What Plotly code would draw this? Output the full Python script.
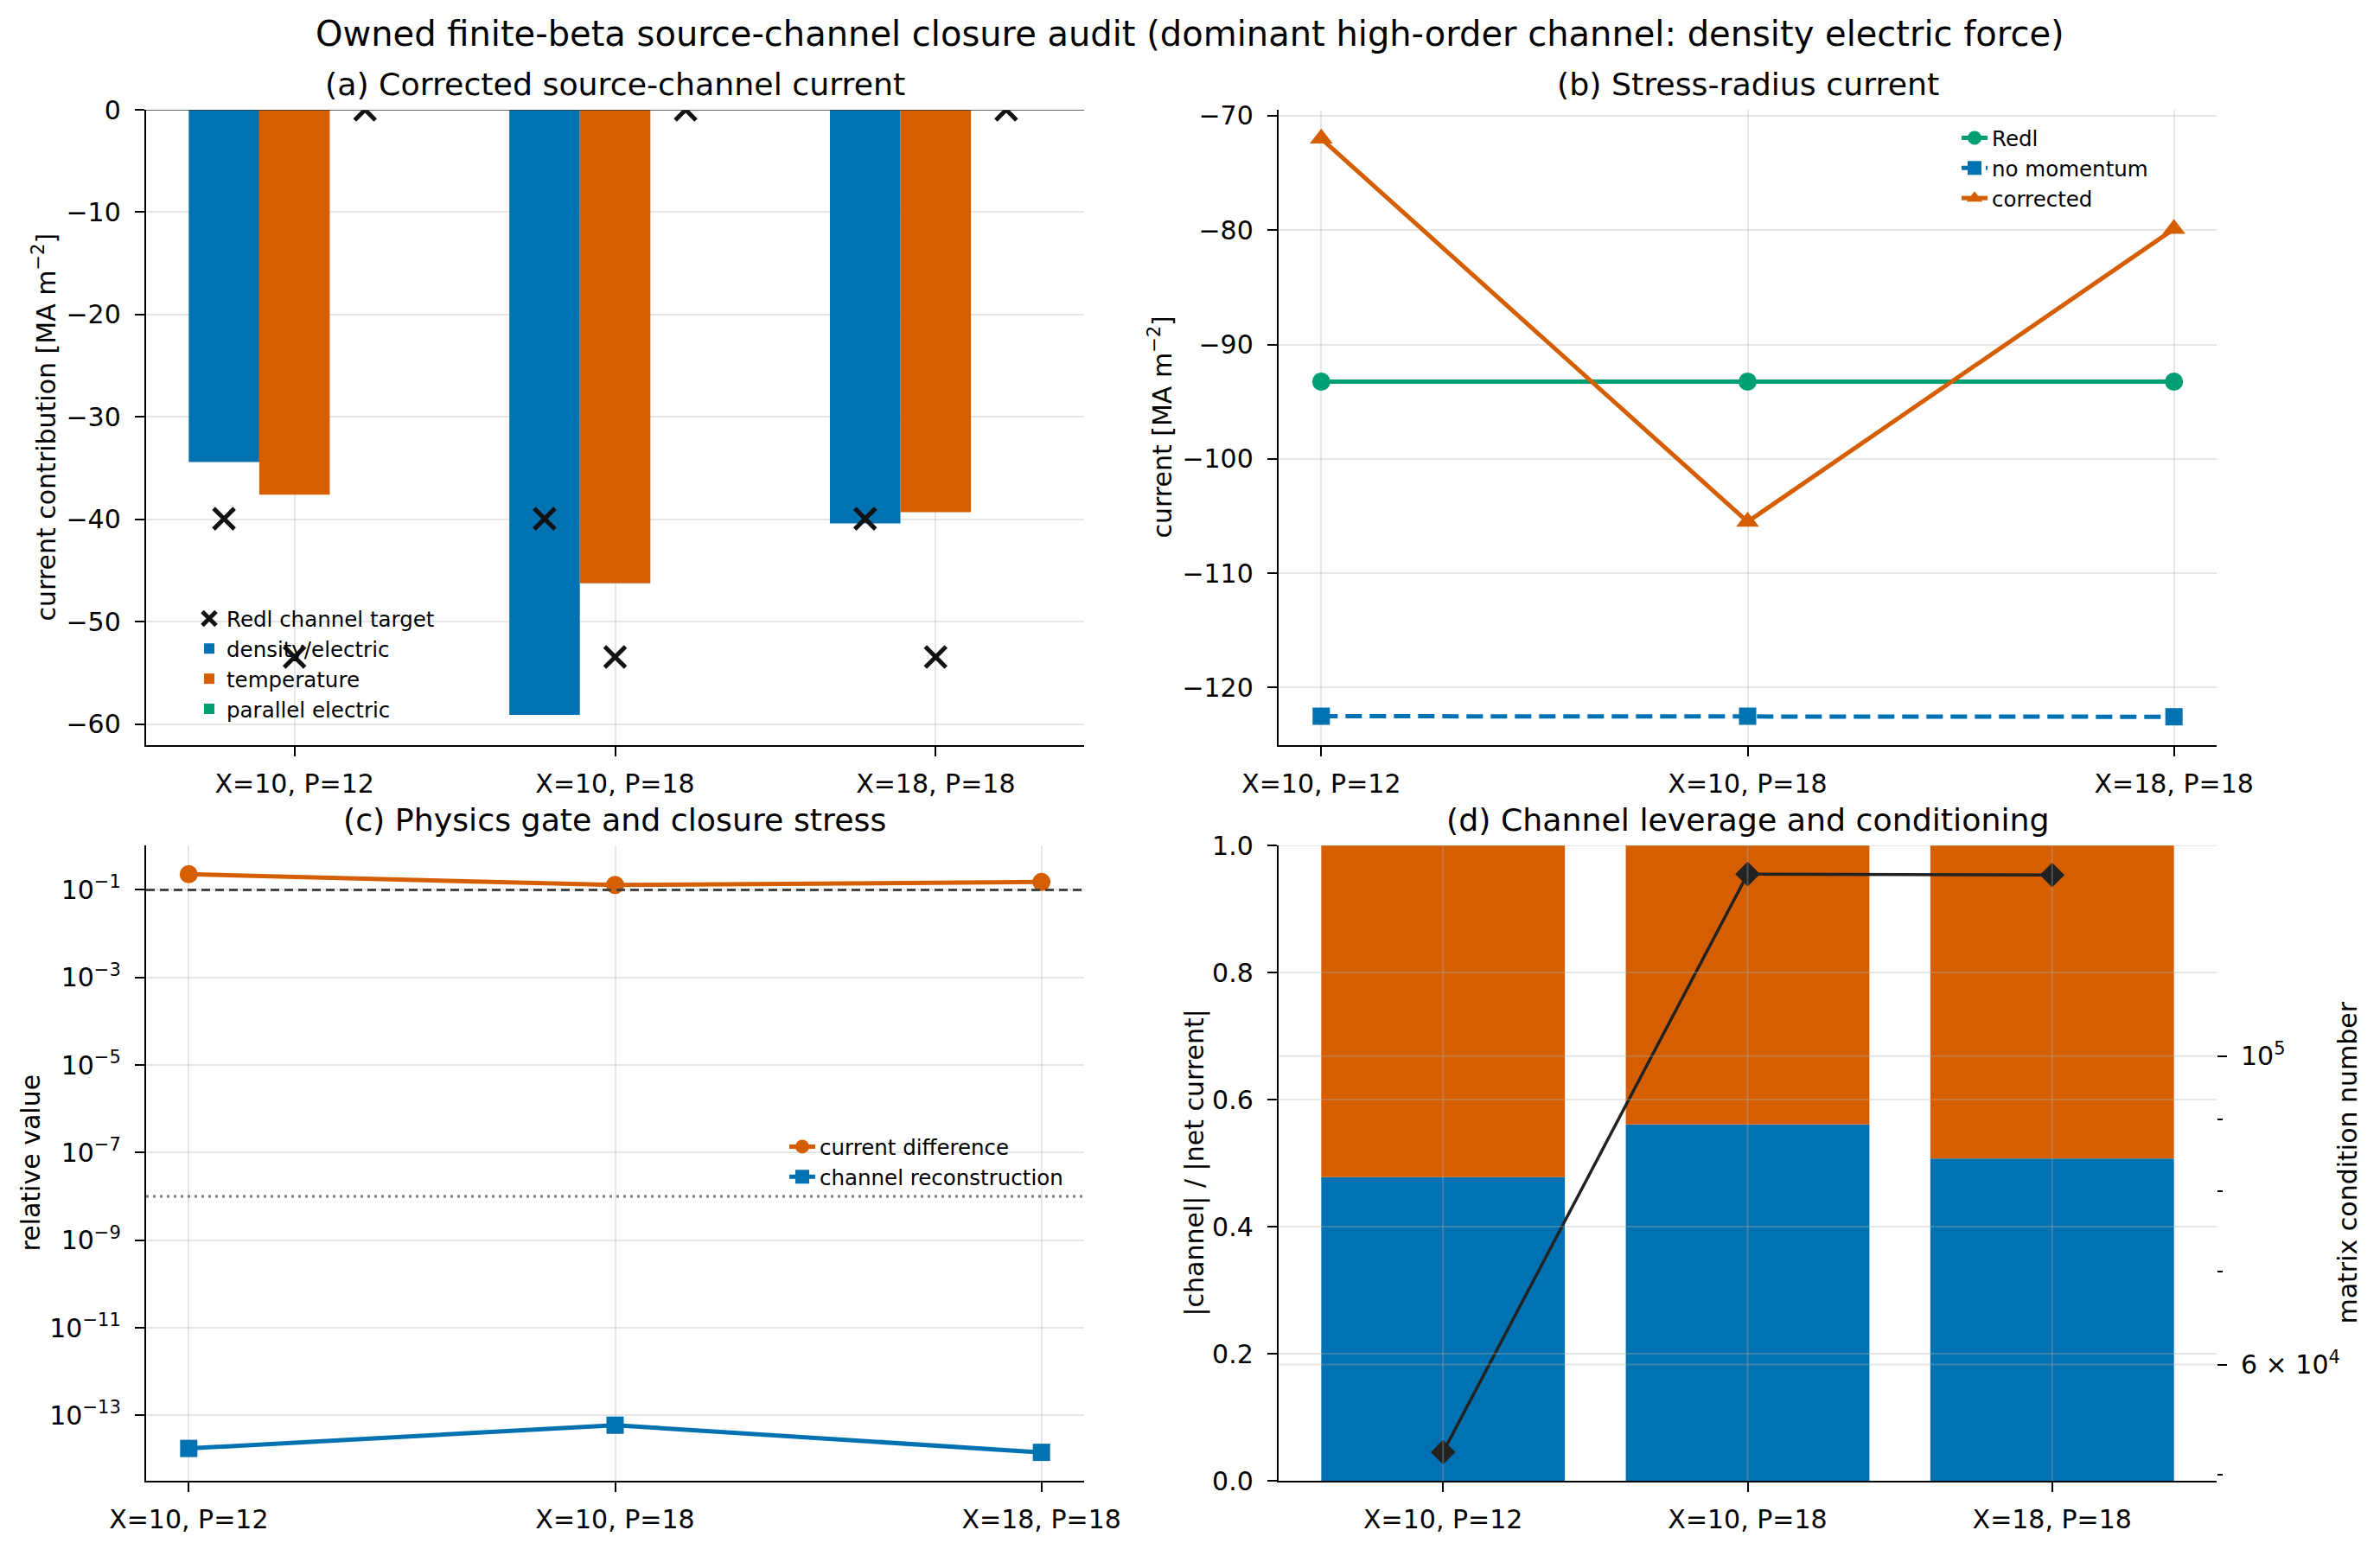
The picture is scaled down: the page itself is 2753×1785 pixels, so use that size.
import plotly.graph_objects as go

# ---------------- data ----------------
categories = ["X=10, P=12", "X=10, P=18", "X=18, P=18"]

# (a) corrected source-channel current [MA m^-2]
density_current = [-34.4, -59.1, -40.4]
temperature_current = [-37.6, -46.25, -39.3]
parallel_current = [0.0, 0.0, 0.0]
density_target = [-39.95, -39.95, -39.95]
temperature_target = [-53.45, -53.45, -53.45]
parallel_target = [0.0, 0.0, 0.0]

# (b) stress-radius current [MA m^-2]
redl_current = [-93.25, -93.25, -93.25]
no_momentum_current = [-122.5, -122.5, -122.55]
corrected_current = [-72.0, -105.5, -79.9]

# (c) physics gate and closure stress
current_difference = [0.227, 0.129, 0.151]
channel_reconstruction = [1.77e-14, 6.0e-14, 1.44e-14]
gate_threshold = 0.1
reconstruction_tolerance = 1e-8
log_tick_values = [1e-13, 1e-11, 1e-9, 1e-7, 1e-5, 1e-3, 1e-1]
log_tick_labels = ["10<sup>\u221213</sup>", "10<sup>\u221211</sup>", "10<sup>\u22129</sup>",
                   "10<sup>\u22127</sup>", "10<sup>\u22125</sup>", "10<sup>\u22123</sup>",
                   "10<sup>\u22121</sup>"]

# (d) channel leverage and conditioning
density_fraction = [0.478, 0.561, 0.507]
temperature_fraction = [0.522, 0.439, 0.493]
parallel_fraction = [0.0, 0.0, 0.0]
condition_number = [51900, 135200, 135000]
fraction_ticks = [0.0, 0.2, 0.4, 0.6, 0.8, 1.0]
cond_major_ticks = [6e4, 1e5]
cond_major_labels = ["6 \u00d7 10<sup>4</sup>", "10<sup>5</sup>"]
cond_minor_ticks = [5e4, 7e4, 8e4, 9e4]

# ---------------- style ----------------
W, H = 2753, 1785
BLUE, ORANGE, GREEN = "#0072B2", "#D55E00", "#009E73"
GRID = "rgba(176,176,176,0.32)"
FONT = "DejaVu Sans"

def xd(a, b):
    return [a / W, b / W]

def yd(top, bottom):
    return [1 - bottom / H, 1 - top / H]

def px_x(v):
    return v / W

def px_y(v):
    return 1 - v / H

idx = list(range(len(categories)))
bar_w = 0.22
offsets = [-bar_w, 0.0, bar_w]

fig = go.Figure()

# ---- (a) ----
target_x, target_y = [], []
for off, tgt in zip(offsets, [density_target, temperature_target, parallel_target]):
    target_x += [i + off for i in idx]
    target_y += tgt

for name, vals, col, off, rank in [("density/electric", density_current, BLUE, offsets[0], 2),
                                    ("temperature", temperature_current, ORANGE, offsets[1], 3),
                                    ("parallel electric", parallel_current, GREEN, offsets[2], 4)]:
    fig.add_trace(go.Bar(x=[i + off for i in idx], y=vals, width=bar_w, marker=dict(color=col, line=dict(width=0)),
                         name=name, xaxis="x", yaxis="y", legend="legend", legendrank=rank))

fig.add_trace(go.Scatter(x=target_x, y=target_y, mode="markers", name="Redl channel target",
                         marker=dict(symbol="x-thin", size=24, color="#111111",
                                     line=dict(width=5, color="#111111")),
                         xaxis="x", yaxis="y", legend="legend", legendrank=1))

# ---- (b) ----
fig.add_trace(go.Scatter(x=idx, y=redl_current, mode="lines+markers", name="Redl",
                         line=dict(color=GREEN, width=5), marker=dict(symbol="circle", size=21, color=GREEN),
                         xaxis="x2", yaxis="y2", legend="legend2"))
fig.add_trace(go.Scatter(x=idx, y=no_momentum_current, mode="lines+markers", name="no momentum",
                         line=dict(color=BLUE, width=5, dash="19px,9px"),
                         marker=dict(symbol="square", size=20, color=BLUE),
                         xaxis="x2", yaxis="y2", legend="legend2"))
fig.add_trace(go.Scatter(x=idx, y=corrected_current, mode="lines+markers", name="corrected",
                         line=dict(color=ORANGE, width=5), marker=dict(symbol="triangle-up", size=23, color=ORANGE),
                         xaxis="x2", yaxis="y2", legend="legend2"))

# ---- (c) ----
fig.add_trace(go.Scatter(x=idx, y=current_difference, mode="lines+markers", name="current difference",
                         line=dict(color=ORANGE, width=5), marker=dict(symbol="circle", size=21, color=ORANGE),
                         xaxis="x3", yaxis="y3", legend="legend3"))
fig.add_trace(go.Scatter(x=idx, y=channel_reconstruction, mode="lines+markers", name="channel reconstruction",
                         line=dict(color=BLUE, width=5), marker=dict(symbol="square", size=20, color=BLUE),
                         xaxis="x3", yaxis="y3", legend="legend3"))

# ---- (d) ----
for name, vals, col in [("density/electric", density_fraction, BLUE),
                        ("temperature", temperature_fraction, ORANGE),
                        ("parallel electric", parallel_fraction, GREEN)]:
    fig.add_trace(go.Bar(x=idx, y=vals, width=0.8, marker=dict(color=col, line=dict(width=0)),
                         name=name, showlegend=False, xaxis="x4", yaxis="y4"))
fig.add_trace(go.Scatter(x=idx, y=condition_number, mode="lines+markers", name="condition number",
                         line=dict(color="#222222", width=3.5),
                         marker=dict(symbol="diamond", size=22, color="#222222"),
                         showlegend=False, xaxis="x4", yaxis="y5"))

# ---------------- axes ----------------
common = dict(showline=True, linecolor="black", linewidth=2.4, ticks="outside", ticklen=11, tickwidth=2.4,
              tickcolor="black", tickfont=dict(size=30, color="black", family=FONT), automargin=False,
              showgrid=True, gridcolor=GRID, gridwidth=2, zeroline=False, mirror=False)
xcommon = dict(common, tickvals=idx, ticktext=categories, ticklabelstandoff=6)
ycommon = dict(common, ticklabelstandoff=10)

left_col = xd(169, 1254)
right_col = xd(1479, 2564)
top_row = yd(127, 862)
bot_row = yd(978, 1713)

legend_font = dict(size=24.5, family=FONT)

fig.update_layout(
    template="plotly_white",
    xaxis=dict(xcommon, domain=left_col, anchor="y", range=[-0.463, 2.463]),
    yaxis=dict(ycommon, domain=top_row, anchor="x", range=[-62.06, 0], tickvals=[-60, -50, -40, -30, -20, -10, 0],
               ticktext=["\u221260", "\u221250", "\u221240", "\u221230", "\u221220", "\u221210", "0"]),
    xaxis2=dict(xcommon, domain=right_col, anchor="y2", range=[-0.1, 2.1]),
    yaxis2=dict(ycommon, domain=top_row, anchor="x2", range=[-125.03, -69.48],
                tickvals=[-120, -110, -100, -90, -80, -70],
                ticktext=["\u2212120", "\u2212110", "\u2212100", "\u221290", "\u221280", "\u221270"]),
    xaxis3=dict(xcommon, domain=left_col, anchor="y3", range=[-0.1, 2.1]),
    yaxis3=dict(ycommon, domain=bot_row, anchor="x3", type="log", range=[-14.49, 0.014],
                tickvals=log_tick_values, ticktext=log_tick_labels),
    xaxis4=dict(xcommon, domain=right_col, anchor="y4", range=[-0.54, 2.54], showgrid=False),
    yaxis4=dict(ycommon, domain=bot_row, anchor="x4", range=[0, 1.0], showgrid=False,
                tickvals=fraction_ticks, ticktext=["0.0", "0.2", "0.4", "0.6", "0.8", "1.0"]),
    yaxis5=dict(ycommon, overlaying="y4", side="right", anchor="x4", type="log", range=[4.6946, 5.1516],
                showline=False, showgrid=False, tickvals=cond_major_ticks, ticktext=cond_major_labels,
                minor=dict(tickvals=cond_minor_ticks, ticks="outside", ticklen=6, tickwidth=2, tickcolor="black",
                           showgrid=False)),
    barmode="relative",
    width=W, height=H,
    margin=dict(l=0, r=0, t=0, b=0, autoexpand=False),
    paper_bgcolor="white", plot_bgcolor="white",
    font=dict(family=FONT, color="black"),
    legend=dict(x=px_x(222), y=px_y(693), xanchor="left", yanchor="top", bgcolor="rgba(0,0,0,0)",
                font=legend_font, tracegroupgap=0),
    legend2=dict(x=px_x(2264), y=px_y(137), xanchor="left", yanchor="top", bgcolor="rgba(0,0,0,0)",
                 font=legend_font, tracegroupgap=0),
    legend3=dict(x=px_x(908), y=px_y(1304), xanchor="left", yanchor="top", bgcolor="rgba(0,0,0,0)",
                 font=legend_font, tracegroupgap=0),
)

# ---------------- reference lines & grid over bars ----------------
shapes = []
# axhline at zero in (a)
shapes.append(dict(type="line", xref="x domain", x0=0, x1=1, yref="y", y0=0, y1=0,
                   line=dict(color="#333333", width=1.6)))
# gate threshold and reconstruction tolerance in (c)
shapes.append(dict(type="line", xref="x3 domain", x0=0, x1=1, yref="y3", y0=gate_threshold, y1=gate_threshold,
                   line=dict(color="#444444", width=3, dash="10px,6px")))
shapes.append(dict(type="line", xref="x3 domain", x0=0, x1=1, yref="y3", y0=reconstruction_tolerance,
                   y1=reconstruction_tolerance, line=dict(color="#777777", width=3, dash="3px,5px")))
# (d) grid drawn above bars
for v in fraction_ticks[1:]:
    shapes.append(dict(type="line", xref="x4 domain", x0=0, x1=1, yref="y4", y0=v, y1=v,
                       line=dict(color=GRID, width=2), layer="above"))
for v in cond_major_ticks:
    shapes.append(dict(type="line", xref="x4 domain", x0=0, x1=1, yref="y5", y0=v, y1=v,
                       line=dict(color=GRID, width=2), layer="above"))
for i in idx:
    shapes.append(dict(type="line", xref="x4", x0=i, x1=i, yref="y4 domain", y0=0, y1=1,
                       line=dict(color=GRID, width=2), layer="above"))
fig.update_layout(shapes=shapes)

# ---------------- titles & labels ----------------
ann = []
ann.append(dict(text="Owned finite-beta source-channel closure audit (dominant high-order channel: density electric force)",
                x=0.5, y=px_y(39), xref="paper", yref="paper", showarrow=False,
                font=dict(size=40, family=FONT), xanchor="center", yanchor="middle"))
for txt, dom, yc in [("(a) Corrected source-channel current", left_col, 97),
                     ("(b) Stress-radius current", right_col, 97),
                     ("(c) Physics gate and closure stress", left_col, 948),
                     ("(d) Channel leverage and conditioning", right_col, 948)]:
    ann.append(dict(text=txt, x=(dom[0] + dom[1]) / 2, y=px_y(yc), xref="paper", yref="paper", showarrow=False,
                    font=dict(size=36.3, family=FONT), xanchor="center", yanchor="middle"))
for txt, xc, yc in [("current contribution [MA m<sup>\u22122</sup>]", 52, 494.5),
                    ("current [MA m<sup>\u22122</sup>]", 1343, 494.5),
                    ("relative value", 35, 1345.5),
                    ("|channel| / |net current|", 1381, 1345.5),
                    ("matrix condition number", 2715, 1345.5)]:
    ann.append(dict(text=txt, x=px_x(xc), y=px_y(yc), xref="paper", yref="paper", showarrow=False,
                    textangle=-90, font=dict(size=30, family=FONT), xanchor="center", yanchor="middle"))
fig.update_layout(annotations=ann)

fig.write_html("out.html")
